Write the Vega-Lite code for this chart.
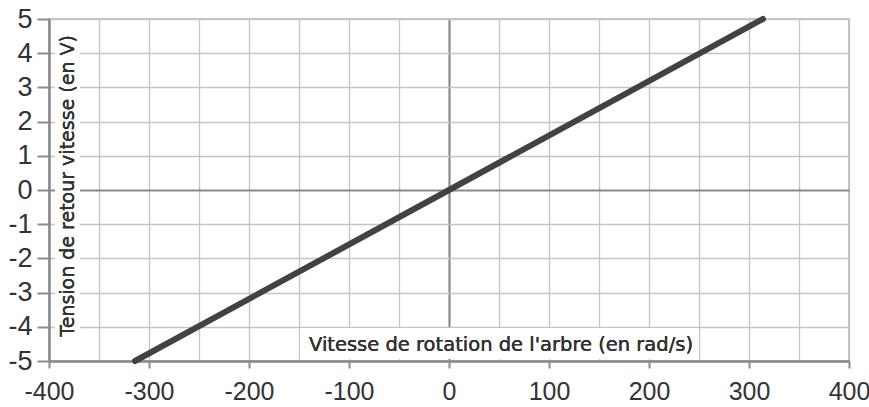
{
  "$schema": "https://vega.github.io/schema/vega-lite/v6.json",
  "width": 800,
  "height": 342,
  "autosize": {"type": "none"},
  "padding": {"left": 49, "top": 19, "right": 20, "bottom": 46},
  "background": "white",
  "config": {
    "view": {"stroke": "#b0b0b0", "strokeWidth": 1.5},
    "axis": {
      "labelFont": "Liberation Sans Narrow, Liberation Sans, sans-serif",
      "labelFontSize": 27,
      "labelColor": "#333333",
      "labelOverlap": false,
      "domainColor": "#8a8a8a",
      "domainWidth": 2.5,
      "tickColor": "#8a8a8a",
      "tickWidth": 2,
      "gridWidth": 1.3
    }
  },
  "data": {
    "values": [
      {"omega": -314, "u": -5},
      {"omega": 0, "u": 0},
      {"omega": 314, "u": 5}
    ]
  },
  "layer": [
    {
      "mark": {"type": "line", "color": "#424242", "strokeWidth": 6, "strokeCap": "round"},
      "encoding": {
        "x": {
          "field": "omega", "type": "quantitative",
          "scale": {"domain": [-400, 400], "nice": false, "zero": false},
          "axis": {
            "title": null,
            "values": [-400, -350, -300, -250, -200, -150, -100, -50, 0, 50, 100, 150, 200, 250, 300, 350, 400],
            "tickCount": 20,
            "labelExpr": "datum.value % 100 === 0 ? '' + datum.value : ''",
            "labelFontSize": 25,
            "tickSize": 7,
            "labelPadding": 11,
            "tickOpacity": {"condition": {"test": "datum.value % 100 !== 0", "value": 0}, "value": 1},
            "gridColor": {"condition": {"test": "datum.value === 0", "value": "#8a8a8a"}, "value": "#c4c4c4"},
            "gridWidth": {"condition": {"test": "datum.value === 0", "value": 2.2}, "value": 1.3},
            "labelFlush": false
          }
        },
        "y": {
          "field": "u", "type": "quantitative",
          "scale": {"domain": [-5, 5], "nice": false},
          "axis": {
            "title": null,
            "values": [-5, -4, -3, -2, -1, 0, 1, 2, 3, 4, 5],
            "tickCount": 11,
            "labelExpr": "'' + datum.value",
            "tickSize": 12,
            "labelPadding": 5,
            "gridColor": {"condition": {"test": "datum.value === 0", "value": "#8a8a8a"}, "value": "#c4c4c4"},
            "gridWidth": {"condition": {"test": "datum.value === 0", "value": 2.2}, "value": 1.3},
            "labelFlush": false
          }
        }
      }
    },
    {
      "mark": {"type": "rect", "color": "white", "opacity": 1},
      "encoding": {
        "x": {"datum": -149},
        "x2": {"datum": 250},
        "y": {"datum": -4.04},
        "y2": {"datum": -4.93}
      }
    },
    {
      "mark": {"type": "rect", "color": "white", "opacity": 1},
      "encoding": {
        "x": {"datum": -394},
        "x2": {"datum": -369},
        "y": {"datum": 4.82},
        "y2": {"datum": -4.53}
      }
    },
    {
      "mark": {"type": "text", "font": "DejaVu Sans", "fontSize": 19.5, "color": "#333333", "align": "center", "baseline": "middle"},
      "encoding": {
        "x": {"datum": 52},
        "y": {"datum": -4.53},
        "text": {"value": "Vitesse de rotation de l'arbre (en rad/s)"}
      }
    },
    {
      "mark": {"type": "text", "font": "DejaVu Sans", "fontSize": 19, "color": "#333333", "align": "center", "baseline": "middle", "angle": 270},
      "encoding": {
        "x": {"datum": -381},
        "y": {"datum": 0.12},
        "text": {"value": "Tension de retour vitesse (en V)"}
      }
    }
  ]
}
